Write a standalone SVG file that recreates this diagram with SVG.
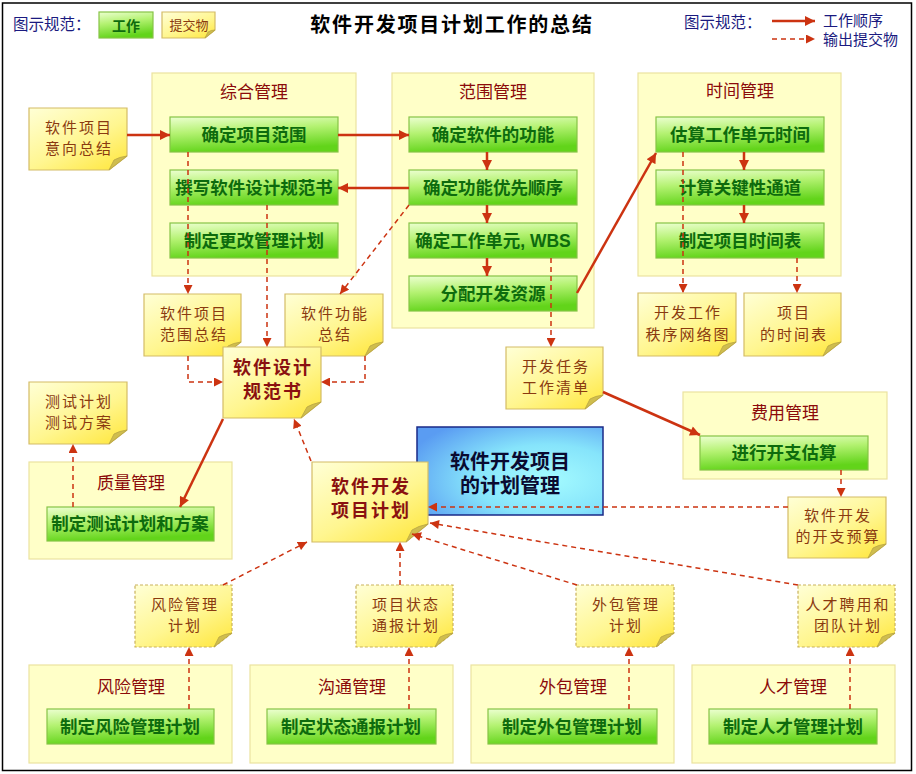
<svg xmlns="http://www.w3.org/2000/svg" width="916" height="774" viewBox="0 0 916 774">
<defs>
<linearGradient id="gWork" x1="0" y1="0" x2="0.25" y2="1">
<stop offset="0" stop-color="#ecffd0"/>
<stop offset="0.45" stop-color="#b4f272"/>
<stop offset="1" stop-color="#62d41a"/>
</linearGradient>
<linearGradient id="gNote" x1="0" y1="0" x2="0.8" y2="1">
<stop offset="0" stop-color="#ffffd6"/>
<stop offset="0.6" stop-color="#fff690"/>
<stop offset="1" stop-color="#ffe94a"/>
</linearGradient>
<radialGradient id="gBlue" cx="0.7" cy="0.6" r="0.8">
<stop offset="0" stop-color="#a4fbff"/>
<stop offset="0.5" stop-color="#86e4fb"/>
<stop offset="1" stop-color="#5a9cf2"/>
</radialGradient>
<marker id="ah" viewBox="0 0 10 10" refX="10" refY="5" markerWidth="11" markerHeight="10" markerUnits="userSpaceOnUse" orient="auto">
<path d="M0,0 L10,5 L0,10 Z" fill="#cc3311"/>
</marker>
<marker id="ahd" viewBox="0 0 10 10" refX="10" refY="5" markerWidth="10" markerHeight="9" markerUnits="userSpaceOnUse" orient="auto">
<path d="M0,0 L10,5 L0,10 Z" fill="#cc3311"/>
</marker>
</defs>
<style>
text{font-family:'Liberation Sans','Noto Sans CJK SC',sans-serif;}
.grp{fill:#ffffc8;stroke:#ebe3a0;stroke-width:1.2;}
.gt{font-size:17px;fill:#8b0a0a;text-anchor:middle;}
.work{fill:url(#gWork);stroke:#86c446;stroke-width:1.2;}
.wt{font-size:17.5px;font-weight:bold;fill:#0d6b0d;text-anchor:middle;}
.note{fill:url(#gNote);stroke:#d4bc66;stroke-width:1.2;}
.noted{fill:url(#gNote);stroke:#c9b15c;stroke-width:1.2;stroke-dasharray:3 2;}
.fold{fill:#cfbd4e;stroke:#b8a444;stroke-width:0.8;}
.nt{font-size:15px;fill:#8a3a10;text-anchor:middle;letter-spacing:2px;}
.nb{font-size:18px;font-weight:bold;fill:#8a1010;text-anchor:middle;letter-spacing:2px;}
.leg{font-size:15.5px;fill:#1a1a80;}
.solid{fill:none;stroke:#cc3311;stroke-width:2.5;marker-end:url(#ah);}
.dash{fill:none;stroke:#cc3311;stroke-width:1.5;stroke-dasharray:5 4;marker-end:url(#ahd);}
</style>
<rect x="0" y="0" width="916" height="774" fill="#ffffff"/>
<rect x="2.5" y="3" width="909" height="767.5" fill="#ffffff" stroke="#000000" stroke-width="1.5"/>

<g id="header">
<text class="leg" x="13" y="30">图示规范：</text>
<rect class="work" x="99" y="12" width="54" height="26"/>
<text x="126" y="31" style="font-size:14px;font-weight:bold;fill:#0d6b0d;text-anchor:middle;">工作</text>
<path class="note" d="M162,12 H215 V30 L205,38 H162 Z"/>
<path class="fold" d="M205,38 L208,32 Q211,30 215,30 Z"/>
<text x="189" y="30" style="font-size:13px;fill:#8a3a10;text-anchor:middle;">提交物</text>
<text x="452" y="32" style="font-size:20px;font-weight:bold;fill:#000;text-anchor:middle;letter-spacing:1.8px;">软件开发项目计划工作的总结</text>
<text class="leg" x="684" y="28">图示规范：</text>
<line x1="772" y1="21" x2="815" y2="21" class="solid"/>
<line x1="772" y1="39" x2="815" y2="39" class="dash"/>
<text class="leg" x="823" y="26" style="font-size:15px">工作顺序</text>
<text class="leg" x="823" y="45" style="font-size:15px">输出提交物</text>
</g>

<g id="g-zonghe">
<rect class="grp" x="152" y="73" width="204" height="203"/>
<text class="gt" x="254" y="98">综合管理</text>
</g>
<g id="g-fanwei">
<rect class="grp" x="392" y="73" width="202" height="255"/>
<text class="gt" x="493" y="98">范围管理</text>
</g>
<g id="g-shijian">
<rect class="grp" x="638" y="73" width="203" height="203"/>
<text class="gt" x="740" y="97">时间管理</text>
</g>
<g id="g-zhiliang">
<rect class="grp" x="29" y="462" width="203" height="97"/>
<text class="gt" x="131" y="489">质量管理</text>
</g>
<g id="g-feiyong">
<rect class="grp" x="683" y="392" width="204" height="87"/>
<text class="gt" x="785" y="419">费用管理</text>
</g>
<g id="g-fengxian">
<rect class="grp" x="29" y="665" width="203" height="98"/>
<text class="gt" x="131" y="693">风险管理</text>
</g>
<g id="g-goutong">
<rect class="grp" x="250" y="665" width="203" height="98"/>
<text class="gt" x="352" y="693">沟通管理</text>
</g>
<g id="g-waibao">
<rect class="grp" x="471" y="665" width="203" height="98"/>
<text class="gt" x="573" y="693">外包管理</text>
</g>
<g id="g-rencai">
<rect class="grp" x="692" y="665" width="203" height="98"/>
<text class="gt" x="793" y="693">人才管理</text>
</g>

<g id="w-queding-fanwei"><rect class="work" x="170" y="117" width="168" height="35"/><text class="wt" x="254" y="141">确定项目范围</text></g>
<g id="w-zhuanxie"><rect class="work" x="170" y="170" width="168" height="35"/><text class="wt" x="254" y="194">撰写软件设计规范书</text></g>
<g id="w-genggai"><rect class="work" x="170" y="223" width="168" height="35"/><text class="wt" x="254" y="247">制定更改管理计划</text></g>
<g id="w-gongneng"><rect class="work" x="409" y="117" width="168" height="35"/><text class="wt" x="493" y="141">确定软件的功能</text></g>
<g id="w-youxian"><rect class="work" x="409" y="170" width="168" height="35"/><text class="wt" x="493" y="194">确定功能优先顺序</text></g>
<g id="w-wbs"><rect class="work" x="409" y="223" width="168" height="35"/><text class="wt" x="493" y="247">确定工作单元, WBS</text></g>
<g id="w-fenpei"><rect class="work" x="409" y="276" width="168" height="35"/><text class="wt" x="493" y="300">分配开发资源</text></g>
<g id="w-gusuan"><rect class="work" x="656" y="117" width="168" height="35"/><text class="wt" x="740" y="141">估算工作单元时间</text></g>
<g id="w-guanjian"><rect class="work" x="656" y="170" width="168" height="35"/><text class="wt" x="740" y="194">计算关键性通道</text></g>
<g id="w-shijianbiao"><rect class="work" x="656" y="223" width="168" height="35"/><text class="wt" x="740" y="247">制定项目时间表</text></g>
<g id="w-ceshi"><rect class="work" x="47" y="507" width="167" height="34"/><text class="wt" x="130" y="530">制定测试计划和方案</text></g>
<g id="w-kaizhi"><rect class="work" x="700" y="436" width="168" height="34"/><text class="wt" x="784" y="459">进行开支估算</text></g>
<g id="w-fengxian"><rect class="work" x="47" y="709" width="167" height="35"/><text class="wt" x="130" y="733">制定风险管理计划</text></g>
<g id="w-zhuangtai"><rect class="work" x="267" y="709" width="169" height="35"/><text class="wt" x="351" y="733">制定状态通报计划</text></g>
<g id="w-waibao"><rect class="work" x="488" y="709" width="169" height="35"/><text class="wt" x="572" y="733">制定外包管理计划</text></g>
<g id="w-rencai"><rect class="work" x="709" y="709" width="168" height="35"/><text class="wt" x="793" y="733">制定人才管理计划</text></g>

<g id="n-yixiang"><path class="note" d="M29,108 H127 V156 L109,170 H29 Z"/><path class="fold" d="M109,170 L114,160 Q119,157 127,156 Z"/><text class="nt" x="79" y="133">软件项目</text><text class="nt" x="79" y="154">意向总结</text></g>
<g id="n-fanweizongjie"><path class="note" d="M144,294 H241 V342 L223,356 H144 Z"/><path class="fold" d="M223,356 L228,346 Q233,343 241,342 Z"/><text class="nt" x="194" y="319">软件项目</text><text class="nt" x="194" y="340">范围总结</text></g>
<g id="n-gongnengzongjie"><path class="note" d="M285,294 H383 V342 L365,356 H285 Z"/><path class="fold" d="M365,356 L370,346 Q375,343 383,342 Z"/><text class="nt" x="335" y="319">软件功能</text><text class="nt" x="335" y="340">总结</text></g>
<g id="n-guifanshu"><path class="note" d="M223,347 H321 V402 L301,418 H223 Z"/><path class="fold" d="M301,418 L307,407 Q312,404 321,402 Z"/><text class="nb" x="273" y="374">软件设计</text><text class="nb" x="273" y="398">规范书</text></g>
<g id="n-ceshi"><path class="note" d="M29,382 H127 V430 L109,444 H29 Z"/><path class="fold" d="M109,444 L114,434 Q119,431 127,430 Z"/><text class="nt" x="79" y="407">测试计划</text><text class="nt" x="79" y="428">测试方案</text></g>
<g id="n-qingdan"><path class="note" d="M506,347 H603 V395 L585,409 H506 Z"/><path class="fold" d="M585,409 L590,399 Q595,396 603,395 Z"/><text class="nt" x="556" y="372">开发任务</text><text class="nt" x="556" y="393">工作清单</text></g>
<g id="n-wangluotu"><path class="note" d="M638,293 H736 V342 L718,356 H638 Z"/><path class="fold" d="M718,356 L723,346 Q728,343 736,342 Z"/><text class="nt" x="688" y="318">开发工作</text><text class="nt" x="688" y="340">秩序网络图</text></g>
<g id="n-shijianbiao"><path class="note" d="M744,293 H841 V342 L823,356 H744 Z"/><path class="fold" d="M823,356 L828,346 Q833,343 841,342 Z"/><text class="nt" x="794" y="318">项目</text><text class="nt" x="794" y="340">的时间表</text></g>
<g id="n-yusuan"><path class="note" d="M788,497 H886 V544 L868,558 H788 Z"/><path class="fold" d="M868,558 L873,548 Q878,545 886,544 Z"/><text class="nt" x="838" y="521">软件开发</text><text class="nt" x="838" y="542">的开支预算</text></g>

<g id="n-blue"><rect x="417" y="427" width="186" height="88" fill="url(#gBlue)" stroke="#1a2a88" stroke-width="1.5"/><text x="510" y="469" style="font-size:20px;font-weight:bold;fill:#0a0a30;text-anchor:middle;">软件开发项目</text><text x="510" y="493" style="font-size:20px;font-weight:bold;fill:#0a0a30;text-anchor:middle;">的计划管理</text></g>
<g id="n-xiangmujihua"><path class="note" d="M312,462 H428 V524 L406,542 H312 Z"/><path class="fold" d="M406,542 L412,530 Q418,526 428,524 Z"/><text class="nb" x="371" y="493">软件开发</text><text class="nb" x="371" y="517">项目计划</text></g>

<g id="n-fengxianjihua"><path class="noted" d="M135,585 H232 V633 L214,647 H135 Z"/><path class="fold" d="M214,647 L219,637 Q224,634 232,633 Z"/><text class="nt" x="185" y="610">风险管理</text><text class="nt" x="185" y="631">计划</text></g>
<g id="n-zhuangtaijihua"><path class="noted" d="M356,585 H453 V633 L435,647 H356 Z"/><path class="fold" d="M435,647 L440,637 Q445,634 453,633 Z"/><text class="nt" x="406" y="610">项目状态</text><text class="nt" x="406" y="631">通报计划</text></g>
<g id="n-waibaojihua"><path class="noted" d="M576,585 H674 V633 L656,647 H576 Z"/><path class="fold" d="M656,647 L661,637 Q666,634 674,633 Z"/><text class="nt" x="626" y="610">外包管理</text><text class="nt" x="626" y="631">计划</text></g>
<g id="n-rencaijihua"><path class="noted" d="M798,585 H895 V633 L877,647 H798 Z"/><path class="fold" d="M877,647 L882,637 Q887,634 895,633 Z"/><text class="nt" x="848" y="610">人才聘用和</text><text class="nt" x="848" y="631">团队计划</text></g>

<g id="connectors">
<line class="solid" x1="127" y1="135" x2="170" y2="135"/>
<line class="solid" x1="338" y1="135" x2="409" y2="135"/>
<line class="solid" x1="409" y1="188" x2="338" y2="188"/>
<line class="solid" x1="487" y1="152" x2="487" y2="170"/>
<line class="solid" x1="487" y1="205" x2="487" y2="223"/>
<line class="solid" x1="487" y1="258" x2="487" y2="276"/>
<line class="solid" x1="577" y1="293" x2="656" y2="153"/>
<line class="solid" x1="744" y1="152" x2="744" y2="170"/>
<line class="solid" x1="744" y1="205" x2="744" y2="223"/>
<line class="solid" x1="223" y1="419" x2="180" y2="507"/>
<line class="solid" x1="603" y1="392" x2="700" y2="435"/>
<line class="dash" x1="188" y1="152" x2="188" y2="294"/>
<line class="dash" x1="267" y1="205" x2="267" y2="347"/>
<line class="dash" x1="409" y1="205" x2="340" y2="294"/>
<polyline class="dash" points="188,356 188,382 223,382"/>
<polyline class="dash" points="365,356 365,382 321,382"/>
<line class="dash" x1="73" y1="507" x2="73" y2="444"/>
<line class="dash" x1="311" y1="461" x2="294" y2="419"/>
<line class="dash" x1="551" y1="258" x2="551" y2="347"/>
<line class="dash" x1="683" y1="152" x2="683" y2="293"/>
<line class="dash" x1="797" y1="258" x2="797" y2="293"/>
<line class="dash" x1="841" y1="470" x2="841" y2="497"/>
<line class="dash" x1="788" y1="507" x2="428" y2="507"/>
<line class="dash" x1="223" y1="585" x2="307" y2="542"/>
<line class="dash" x1="400" y1="585" x2="400" y2="542"/>
<line class="dash" x1="577" y1="585" x2="412" y2="534"/>
<line class="dash" x1="798" y1="585" x2="430" y2="523"/>
<line class="dash" x1="189" y1="709" x2="189" y2="647"/>
<line class="dash" x1="409" y1="709" x2="409" y2="647"/>
<line class="dash" x1="629" y1="709" x2="629" y2="647"/>
<line class="dash" x1="850" y1="709" x2="850" y2="647"/>
</g>
</svg>
